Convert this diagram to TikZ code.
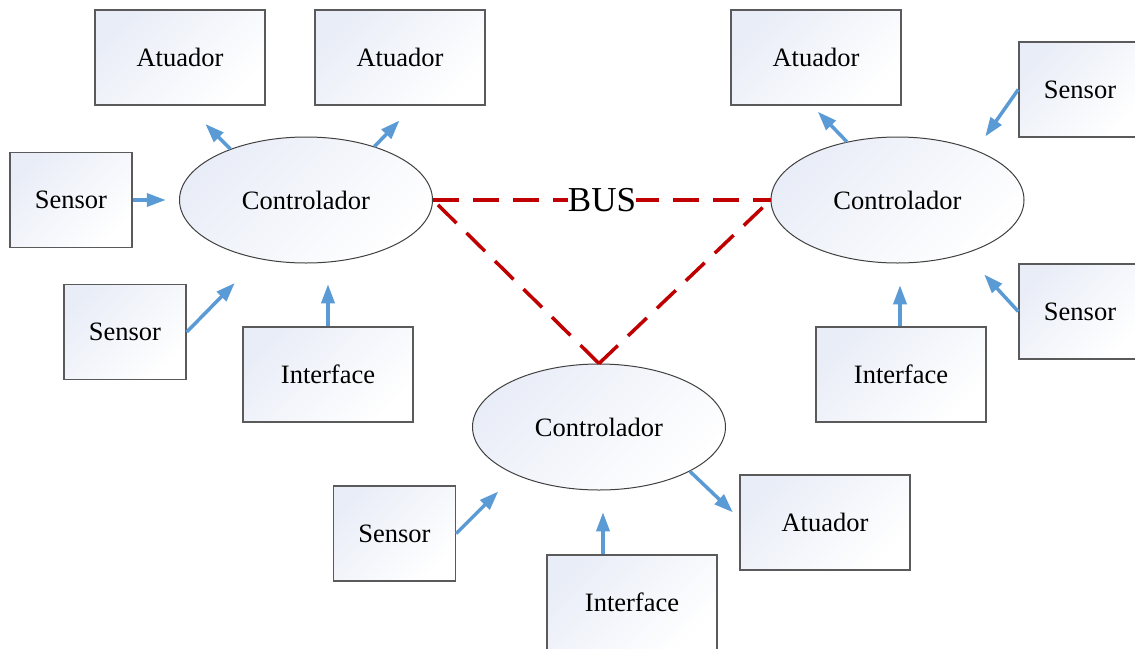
\documentclass[tikz,border=0pt]{standalone}
\usepackage{fontspec}
\setmainfont{Liberation Serif}
\usetikzlibrary{shapes.geometric,arrows.meta}

\definecolor{busred}{RGB}{192,0,0}
\definecolor{arrowblue}{RGB}{91,155,213}
\definecolor{shadeblue}{RGB}{233,237,247}
\definecolor{shademid}{RGB}{252,253,255}
\definecolor{edgegray}{RGB}{90,90,90}

\tikzset{
  unitbox/.style={draw=edgegray, line width=1.5pt, rectangle, inner sep=0pt,
    top color=shadeblue, middle color=shademid, bottom color=white, shading angle=45,
    font=\fontsize{26.5}{30}\selectfont},
  widebox/.style={unitbox, minimum width=170pt, minimum height=95pt},
  sensorbox/.style={unitbox, minimum width=122pt, minimum height=95pt},
  ctrl/.style={ellipse, draw=black!75, line width=1pt, inner sep=0pt,
    minimum width=253pt, minimum height=126pt,
    top color=shadeblue, middle color=shademid, bottom color=white, shading angle=45,
    font=\fontsize{26.5}{30}\selectfont},
  flow/.style={draw=arrowblue, line width=3.5pt,
    -{Triangle[length=19pt,width=13pt]}},
  buslink/.style={draw=busred, line width=3.5pt, dash pattern=on 26pt off 14pt}
}

\begin{document}
\begin{tikzpicture}[x=1pt,y=-1pt]
\clip (0,0) rectangle (1135,648);
\fill[white] (0,0) rectangle (1135,648);

% controllers
\node[ctrl] (L) at (306,200) {Controlador};
\node[ctrl] (R) at (897.5,200) {Controlador};
\node[ctrl] (B) at (599,427) {Controlador};

% bus between the three controllers
\draw[buslink] (L.east) -- (R.west);
\draw[buslink] (B.north) -- (L.east);
\draw[buslink] (B.north) -- (R.west);
\node[fill=white, inner sep=0pt, font=\fontsize{35}{38}\selectfont] (bus) at (602,200) {BUS};

% left cluster
\node[widebox] (A1) at (180,57.5) {Atuador};
\node[widebox] (A2) at (400,57.5) {Atuador};
\node[sensorbox] (S1) at (71,200) {Sensor};
\node[sensorbox] (S2) at (125,332) {Sensor};
\node[widebox] (I1) at (328,374.5) {Interface};

% right cluster
\node[widebox] (A3) at (816,57.5) {Atuador};
\node[sensorbox] (S3) at (1080,89.5) {Sensor};
\node[sensorbox] (S4) at (1080,311.5) {Sensor};
\node[widebox] (I2) at (901,374.5) {Interface};

% bottom cluster
\node[sensorbox] (S5) at (394.5,533.5) {Sensor};
\node[widebox] (I3) at (632,602.5) {Interface};
\node[widebox] (A4) at (825,522.5) {Atuador};

% signal arrows
\draw[flow] (L.146) -- ++(-25,-25);
\draw[flow] (L.38.8) -- ++(25,-26);
\draw[flow] (S1.east) -- ++(33,0);
\draw[flow] (S2.east) -- ++(48,-49);
\draw[flow] (I1.north) -- ++(0,-42);

\draw[flow] (R.131.8) -- ++(-29,-30);
\draw[flow] (S3.west) -- ++(-33,47);
\draw[flow] (S4.west) -- ++(-34,-37);
\draw[flow] ([xshift=-1pt]I2.north) -- ++(0,-41);

\draw[flow] (S5.east) -- ++(42,-42);
\draw[flow] ([xshift=-29pt]I3.north) -- ++(0,-42);
\draw[flow] (B.-26.8) -- ++(43,41);
\end{tikzpicture}
\end{document}
